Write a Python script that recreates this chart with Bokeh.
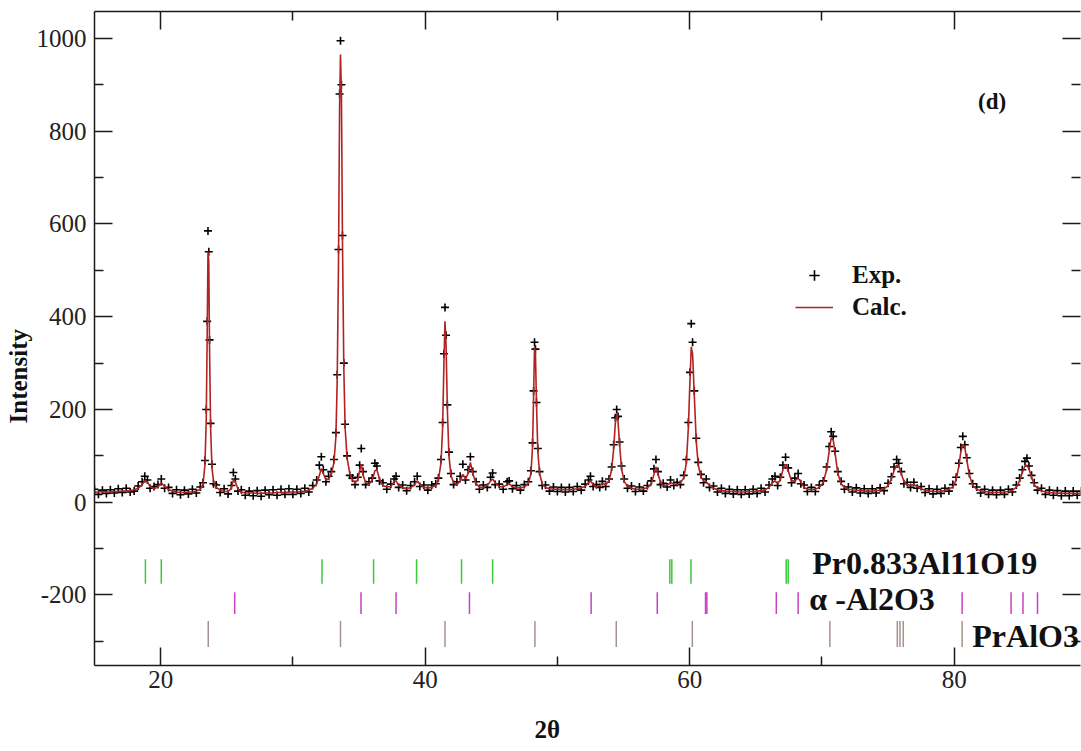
from bokeh.plotting import figure
from bokeh.models import (FixedTicker, LinearAxis, Label, Legend, LegendItem,
                          ColumnDataSource, Title, CustomJSTickFormatter)
from bokeh.embed import file_html
from bokeh.resources import INLINE

# ---------------- data ----------------
two_theta = [
    15.0, 15.3, 15.6, 15.9, 16.2, 16.5, 16.8, 17.1, 17.4, 17.7,
    18.0, 18.3, 18.6, 18.8, 19.0, 19.2, 19.5, 19.8, 20.05, 20.3,
    20.6, 20.9, 21.2, 21.5, 21.8, 22.1, 22.4, 22.7, 23.0, 23.2,
    23.35, 23.45, 23.52, 23.58, 23.64, 23.70, 23.78, 23.88, 24.0, 24.2,
    24.5, 24.8, 25.1, 25.35, 25.5, 25.65, 25.85, 26.1, 26.4, 26.7,
    27.0, 27.3, 27.6, 27.9, 28.2, 28.5, 28.8, 29.1, 29.4, 29.7,
    30.0, 30.3, 30.6, 30.9, 31.2, 31.5, 31.8, 32.0, 32.15, 32.3,
    32.5, 32.7, 32.9, 33.1, 33.25, 33.35, 33.45, 33.53, 33.6, 33.67,
    33.75, 33.85, 33.95, 34.1, 34.3, 34.5, 34.7, 34.9, 35.05, 35.17,
    35.3, 35.5, 35.75, 36.0, 36.2, 36.35, 36.55, 36.8, 37.1, 37.4,
    37.65, 37.8, 38.0, 38.3, 38.6, 38.9, 39.2, 39.4, 39.6, 39.9,
    40.2, 40.5, 40.8, 41.0, 41.2, 41.32, 41.42, 41.5, 41.58, 41.68,
    41.8, 41.95, 42.15, 42.4, 42.65, 42.85, 43.05, 43.25, 43.42, 43.6,
    43.85, 44.1, 44.4, 44.7, 44.95, 45.1, 45.3, 45.6, 45.9, 46.2,
    46.35, 46.6, 46.9, 47.2, 47.5, 47.8, 48.0, 48.12, 48.2, 48.27,
    48.34, 48.42, 48.52, 48.65, 48.85, 49.1, 49.4, 49.7, 50.0, 50.3,
    50.6, 50.9, 51.2, 51.5, 51.8, 52.1, 52.35, 52.5, 52.7, 52.95,
    53.2, 53.4, 53.65, 53.9, 54.1, 54.25, 54.38, 54.48, 54.58, 54.7,
    54.85, 55.05, 55.3, 55.6, 55.9, 56.2, 56.5, 56.8, 57.1, 57.3,
    57.45, 57.6, 57.8, 58.0, 58.3, 58.55, 58.8, 59.05, 59.3, 59.55,
    59.75, 59.9, 60.02, 60.12, 60.22, 60.35, 60.5, 60.65, 60.85, 61.05,
    61.25, 61.5, 61.8, 62.1, 62.4, 62.7, 63.0, 63.3, 63.6, 63.9,
    64.2, 64.5, 64.8, 65.1, 65.4, 65.7, 66.0, 66.25, 66.45, 66.65,
    66.85, 67.05, 67.25, 67.45, 67.7, 67.95, 68.2, 68.4, 68.65, 68.9,
    69.2, 69.5, 69.8, 70.1, 70.35, 70.55, 70.7, 70.85, 71.0, 71.2,
    71.45, 71.7, 72.0, 72.3, 72.6, 72.9, 73.2, 73.5, 73.8, 74.1,
    74.4, 74.7, 75.0, 75.25, 75.45, 75.65, 75.8, 76.0, 76.2, 76.45,
    76.7, 76.95, 77.2, 77.5, 77.8, 78.1, 78.4, 78.7, 79.0, 79.3,
    79.6, 79.9, 80.15, 80.35, 80.5, 80.65, 80.8, 80.95, 81.15, 81.4,
    81.7, 82.0, 82.3, 82.6, 82.9, 83.2, 83.5, 83.8, 84.1, 84.4,
    84.7, 84.95, 85.15, 85.35, 85.5, 85.65, 85.85, 86.05, 86.3, 86.6,
    86.9, 87.2, 87.5, 87.8, 88.1, 88.4, 88.7, 89.0, 89.3, 89.6,
]

calc = [
    22, 22, 23, 22, 22, 23, 23, 24, 24, 25,
    27, 30, 38, 46, 44, 34, 29, 33, 42, 34,
    27, 24, 22, 21, 21, 22, 22, 24, 28, 38,
    80, 180, 360, 540, 520, 330, 160, 75, 45, 32,
    26, 23, 23, 30, 48, 44, 28, 22, 20, 20,
    20, 19, 19, 20, 20, 20, 21, 21, 21, 22,
    22, 22, 23, 24, 26, 30, 40, 58, 72, 62,
    48, 50, 60, 85, 140, 260, 520, 850, 965, 880,
    560, 290, 160, 95, 62, 48, 42, 48, 68, 82,
    60, 42, 38, 48, 68, 70, 50, 36, 33, 34,
    44, 46, 36, 31, 30, 31, 38, 46, 38, 32,
    31, 32, 36, 48, 85, 160, 300, 390, 340, 200,
    100, 58, 42, 38, 46, 60, 50, 62, 86, 62,
    40, 33, 32, 36, 46, 50, 42, 34, 33, 38,
    40, 33, 31, 31, 33, 40, 62, 120, 230, 335,
    320, 210, 110, 62, 40, 32, 29, 28, 28, 27,
    27, 27, 28, 29, 31, 34, 42, 46, 38, 33,
    36, 40, 38, 46, 70, 115, 170, 190, 175, 125,
    72, 45, 34, 30, 28, 28, 29, 31, 40, 60,
    76, 62, 42, 36, 37, 42, 40, 38, 42, 52,
    85, 160, 260, 335, 320, 230, 130, 80, 55, 46,
    44, 36, 30, 27, 25, 24, 23, 23, 22, 22,
    22, 23, 23, 24, 25, 27, 32, 42, 46, 40,
    48, 70, 82, 68, 46, 46, 52, 44, 32, 28,
    27, 28, 32, 42, 70, 110, 138, 135, 105, 62,
    40, 32, 28, 27, 26, 25, 24, 24, 24, 25,
    26, 29, 36, 50, 68, 80, 78, 62, 44, 38,
    36, 38, 34, 29, 26, 24, 23, 23, 24, 25,
    28, 33, 48, 78, 108, 125, 118, 92, 58, 36,
    28, 25, 23, 22, 21, 21, 21, 22, 23, 26,
    32, 46, 64, 78, 80, 72, 54, 38, 30, 25,
    22, 21, 20, 20, 19, 19, 19, 19, 19, 19,
]

exp = [
    28, 17, 26, 19, 27, 20, 29, 21, 30, 22,
    24, 35, 44, 56, 48, 30, 34, 38, 50, 30,
    32, 19, 27, 16, 26, 18, 28, 20, 33, 42,
    90, 200, 390, 585, 540, 350, 170, 82, 40, 37,
    21, 29, 18, 36, 64, 50, 24, 27, 15, 24,
    14, 25, 13, 26, 16, 27, 15, 28, 17, 29,
    17, 28, 19, 30, 22, 36, 48, 80, 98, 70,
    44, 56, 66, 92, 150, 275, 545, 880, 995, 900,
    575, 300, 168, 100, 58, 52, 38, 54, 80, 116,
    66, 38, 44, 52, 84, 78, 46, 42, 28, 39,
    50, 56, 32, 37, 25, 36, 44, 56, 34, 37,
    26, 37, 40, 52, 92, 172, 320, 420, 360, 210,
    108, 62, 38, 44, 56, 82, 48, 70, 98, 66,
    44, 28, 37, 32, 54, 63, 38, 39, 28, 44,
    46, 29, 36, 26, 38, 44, 68, 128, 240, 345,
    330, 215, 116, 66, 36, 37, 24, 33, 23, 32,
    22, 32, 23, 34, 26, 39, 48, 56, 34, 38,
    32, 45, 34, 50, 76, 124, 182, 200, 185, 130,
    78, 50, 30, 35, 23, 33, 24, 36, 46, 72,
    92, 66, 38, 41, 33, 48, 36, 43, 38, 58,
    92, 172, 280, 385, 345, 240, 138, 86, 60, 42,
    50, 32, 35, 22, 30, 19, 28, 18, 27, 17,
    27, 18, 28, 19, 30, 22, 37, 50, 56, 36,
    54, 80, 97, 74, 42, 52, 62, 40, 37, 23,
    32, 23, 37, 46, 76, 120, 152, 142, 110, 66,
    45, 28, 33, 22, 31, 20, 29, 19, 29, 20,
    31, 25, 41, 55, 76, 92, 84, 66, 40, 43,
    32, 43, 30, 34, 21, 29, 18, 28, 19, 30,
    24, 38, 54, 84, 118, 142, 124, 96, 62, 40,
    33, 20, 28, 17, 26, 16, 26, 17, 28, 22,
    37, 52, 70, 88, 95, 78, 58, 42, 26, 30,
    17, 26, 15, 25, 14, 24, 14, 24, 15, 24,
]

# Bragg reflection positions of the three phases
refl_pr_hexaaluminate = [18.85, 20.05, 32.2, 36.1, 39.35, 42.75, 45.1,
                         58.5, 58.65, 60.1, 67.3, 67.45]
refl_alpha_al2o3 = [25.6, 35.15, 37.8, 43.35, 52.55, 57.55, 61.2, 61.3,
                    66.55, 68.2, 80.6, 84.3, 85.2, 86.3]
refl_pralo3 = [23.6, 33.6, 41.5, 48.3, 54.45, 60.2, 70.6, 75.7, 75.9, 76.15, 80.6]

phase_names = ["Pr0.833Al11O19", "\u03b1 -Al2O3", "PrAlO3"]

x_major = [20, 40, 60, 80]
x_minor = [30, 50, 70]
y_major = [-200, 0, 200, 400, 600, 800, 1000]
y_minor = [-300, -100, 100, 300, 500, 700, 900]

# ---------------- figure ----------------
SERIF = "Liberation Serif"
CALC_COLOR = "#b22222"

p = figure(width=1081, height=751, x_range=(15, 89.55), y_range=(-352, 1058),
           output_backend="svg", toolbar_location=None,
           min_border_left=94, min_border_right=1, min_border_top=11,
           min_border_bottom=86)
p.outline_line_color = None
p.grid.visible = False
p.background_fill_color = "white"
p.border_fill_color = "white"

xt = FixedTicker(ticks=x_major, minor_ticks=x_minor)
yt = FixedTicker(ticks=y_major, minor_ticks=y_minor)
blank = CustomJSTickFormatter(code="return ''")


def style_axis(ax, labels=True):
    ax.axis_line_color = "#1a1a1a"
    ax.axis_line_width = 1.5
    ax.major_tick_line_color = "#1a1a1a"
    ax.minor_tick_line_color = "#1a1a1a"
    ax.major_tick_line_width = 1.5
    ax.minor_tick_line_width = 1.5
    ax.major_tick_in = 18
    ax.major_tick_out = 0
    ax.minor_tick_in = 9
    ax.minor_tick_out = 0
    if labels:
        ax.major_label_text_font = SERIF
        ax.major_label_text_font_size = "25px"
        ax.major_label_text_color = "#222222"
    else:
        ax.formatter = blank
        ax.major_label_text_font_size = "6px"
        ax.major_label_standoff = 0


p.xaxis.ticker = xt
p.yaxis.ticker = yt
style_axis(p.xaxis[0])
style_axis(p.yaxis[0])
p.xaxis.major_label_standoff = 5
p.yaxis.major_label_standoff = 8
p.yaxis.major_label_overrides = {-200: "-200"}

top = LinearAxis(ticker=xt)
style_axis(top, labels=False)
p.add_layout(top, "above")

right = LinearAxis(ticker=yt)
style_axis(right, labels=False)
right.axis_line_alpha = 0
p.add_layout(right, "right")

# axis titles (as titles so they can sit off-centre like the reference)
x_title = Title(text="2\u03b8", align="left", offset=440, standoff=2,
                vertical_align="bottom",
                text_font=SERIF, text_font_style="bold",
                text_font_size="25px", text_color="#111111")
try:
    x_title.padding = dict(top=22, bottom=0, left=0, right=0)
except Exception:
    x_title.standoff = 20
p.add_layout(x_title, "below")
p.add_layout(Title(text="Intensity", align="left", offset=242, standoff=4,
                   text_font=SERIF, text_font_style="bold",
                   text_font_size="25px", text_color="#111111"), "left")

# ---------------- data glyphs ----------------
src = ColumnDataSource(dict(x=two_theta, calc=calc, exp=exp))
r_exp = p.scatter("x", "exp", source=src, marker="cross", size=8,
                  line_color="black", line_width=1.6)
r_calc = p.line("x", "calc", source=src, line_color=CALC_COLOR, line_width=1.6)

# Bragg tick rows
rows = [
    (refl_pr_hexaaluminate, -123, -176, "#3cc83c"),
    (refl_alpha_al2o3, -194, -241, "#c840c0"),
    (refl_pralo3, -256, -312, "#a89090"),
]
for pos, y0, y1, col in rows:
    p.segment(x0=pos, y0=[y0] * len(pos), x1=pos, y1=[y1] * len(pos),
              line_color=col, line_width=1.5)

# Phase names
for name, xx, yy in zip(phase_names, [69.27, 69.05, 81.37], [-130, -209, -289]):
    p.add_layout(Label(x=xx, y=yy, text=name, text_font=SERIF,
                       text_font_style="bold", text_font_size="32px",
                       text_align="left", text_baseline="middle",
                       text_color="#111111"))

# panel tag
p.add_layout(Label(x=81.8, y=864, text="(d)", text_font=SERIF,
                   text_font_style="bold", text_font_size="23px",
                   text_align="left", text_baseline="middle", text_color="#111111"))

# legend
legend = Legend(items=[LegendItem(label="Exp.", renderers=[r_exp]),
                       LegendItem(label="Calc.", renderers=[r_calc])],
                location=(701, 344), orientation="vertical",
                glyph_width=38, glyph_height=26, label_height=26,
                label_standoff=19, spacing=4, padding=0, margin=0,
                border_line_color=None, background_fill_alpha=0,
                label_text_font=SERIF, label_text_font_style="bold",
                label_text_font_size="25px", label_text_color="#111111")
p.add_layout(legend)

open("out.html", "w").write(file_html(p, INLINE))
